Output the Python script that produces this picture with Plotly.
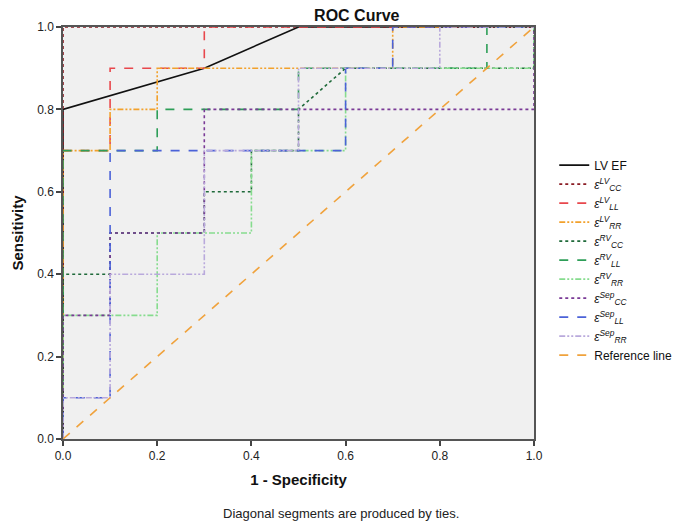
import plotly.graph_objects as go

# ---- data (x = 1 - specificity, y = sensitivity) ----
lvef_x = [0, 0, 0.3, 0.5, 1.0]
lvef_y = [0, 0.8, 0.9, 1.0, 1.0]

lv_cc_x = [0, 0, 1.0]
lv_cc_y = [0, 1.0, 1.0]

lv_ll_x = [0, 0, 0.1, 0.1, 0.3, 0.3, 1.0]
lv_ll_y = [0, 0.7, 0.7, 0.9, 0.9, 1.0, 1.0]

lv_rr_x = [0, 0, 0.1, 0.1, 0.2, 0.2, 0.7, 0.7, 1.0]
lv_rr_y = [0, 0.7, 0.7, 0.8, 0.8, 0.9, 0.9, 1.0, 1.0]

rv_cc_x = [0, 0, 0.1, 0.1, 0.3, 0.3, 0.4, 0.4, 0.5, 0.5, 0.6, 1.0, 1.0]
rv_cc_y = [0, 0.4, 0.4, 0.5, 0.5, 0.6, 0.6, 0.7, 0.7, 0.8, 0.9, 0.9, 1.0]

rv_ll_x = [0, 0, 0.2, 0.2, 0.5, 0.5, 0.9, 0.9, 1.0]
rv_ll_y = [0, 0.7, 0.7, 0.8, 0.8, 0.9, 0.9, 1.0, 1.0]

rv_rr_x = [0, 0, 0.2, 0.2, 0.4, 0.4, 0.6, 0.6, 1.0, 1.0]
rv_rr_y = [0, 0.3, 0.3, 0.5, 0.5, 0.7, 0.7, 0.9, 0.9, 1.0]

sep_cc_x = [0, 0, 0.1, 0.1, 0.3, 0.3, 1.0, 1.0]
sep_cc_y = [0, 0.3, 0.3, 0.5, 0.5, 0.8, 0.8, 1.0]

sep_ll_x = [0, 0, 0.1, 0.1, 0.6, 0.6, 0.7, 0.7, 1.0]
sep_ll_y = [0, 0.1, 0.1, 0.7, 0.7, 0.9, 0.9, 1.0, 1.0]

sep_rr_x = [0, 0, 0.1, 0.1, 0.3, 0.3, 0.5, 0.5, 0.8, 0.8, 1.0]
sep_rr_y = [0, 0.1, 0.1, 0.4, 0.4, 0.7, 0.7, 0.9, 0.9, 1.0, 1.0]

ref_x = [0, 1.0]
ref_y = [0, 1.0]

tick_vals = [0, 0.2, 0.4, 0.6, 0.8, 1.0]
tick_text = ["0.0", "0.2", "0.4", "0.6", "0.8", "1.0"]

def eps(sub, sup):
    return f"<i>ε</i><sup><i>{sup}</i></sup><sub><i>{sub}</i></sub>"

series = [
    ("LV EF", lvef_x, lvef_y, "#111111", "solid", 1.6),
    (eps("CC", "LV"), lv_cc_x, lv_cc_y, "#8b1c24", "dot", 1.6),
    (eps("LL", "LV"), lv_ll_x, lv_ll_y, "#e8474c", "dash", 1.6),
    (eps("RR", "LV"), lv_rr_x, lv_rr_y, "#f2a12c", "6px,2px,2px,2px,2px,2px", 1.6),
    (eps("CC", "RV"), rv_cc_x, rv_cc_y, "#1f6a3a", "dot", 1.6),
    (eps("LL", "RV"), rv_ll_x, rv_ll_y, "#2e9e58", "dash", 1.6),
    (eps("RR", "RV"), rv_rr_x, rv_rr_y, "#86dc8e", "6px,2px,2px,2px,2px,2px", 1.6),
    (eps("CC", "Sep"), sep_cc_x, sep_cc_y, "#7a3a96", "dot", 1.6),
    (eps("LL", "Sep"), sep_ll_x, sep_ll_y, "#4b62d8", "dash", 1.6),
    (eps("RR", "Sep"), sep_rr_x, sep_rr_y, "#b9a9dc", "6px,2px,2px,2px,2px,2px", 1.6),
    ("Reference line", ref_x, ref_y, "#f0a23c", "dash", 1.6),
]

fig = go.Figure()
for idx in range(len(series)):
    name, xs, ys, col, dash, w = series[idx]
    fig.add_trace(go.Scatter(
        x=xs, y=ys, mode="lines", name=name,
        line=dict(color=col, dash=dash, width=w),
        cliponaxis=False, legendrank=idx + 1,
    ))

axis_common = dict(
    range=[0, 1], tickvals=tick_vals, ticktext=tick_text,
    showgrid=False, zeroline=False, ticks="outside", ticklen=5,
    tickcolor="#444", tickwidth=1.5, showline=True, linecolor="#555",
    linewidth=1.5, mirror=True, tickfont=dict(size=12, color="#222"),
    automargin=False,
)

fig.update_layout(
    width=672, height=517,
    margin=dict(l=55, r=146, t=19, b=86, autoexpand=False),
    paper_bgcolor="white", plot_bgcolor="#f0f0f0",
    font=dict(family="Liberation Sans, Arial, sans-serif", color="#111"),
    title=dict(text="<b>ROC Curve</b>", xref="container", x=0.519, xanchor="center",
               yref="container", y=0.986, yanchor="middle", font=dict(size=16)),
    xaxis=dict(title=dict(text="<b>1 - Specificity</b>", font=dict(size=15), standoff=12),
               **axis_common),
    yaxis=dict(title=dict(text="<b>Sensitivity</b>", font=dict(size=15), standoff=10),
               **axis_common),
    legend=dict(x=1.043, xanchor="left", y=0.70, yanchor="top",
                bgcolor="rgba(0,0,0,0)", font=dict(size=12),
                tracegroupgap=0, itemwidth=30),
    showlegend=True,
)

fig.add_annotation(text="Diagonal segments are produced by ties.",
                   xref="paper", yref="paper", x=0.59, y=-0.18,
                   xanchor="center", yanchor="middle", showarrow=False,
                   font=dict(size=13, color="#222"))

fig.write_html("out.html")
